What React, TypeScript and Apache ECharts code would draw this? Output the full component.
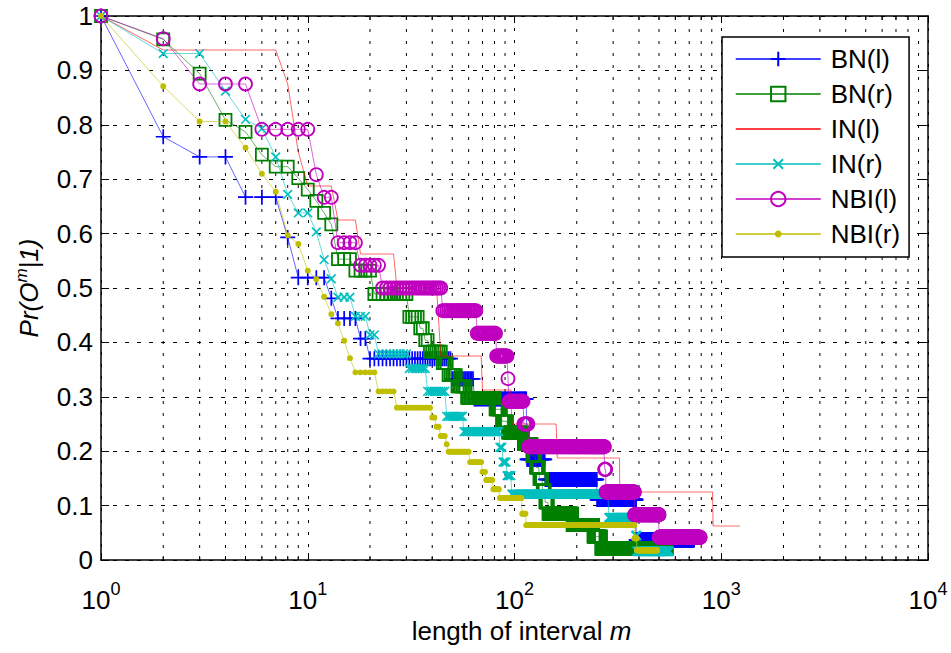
import { useEffect, useRef } from 'react';
import * as echarts from 'echarts';

// Each run is [first m, last m, Pr] : the empirical probability holds for every integer m in the run.
type Run = [number, number, number];

const seriesNames = ['BN(l)', 'BN(r)', 'IN(l)', 'IN(r)', 'NBI(l)', 'NBI(r)'];

const bnLeftRuns: Run[] = [
  [1, 1, 1], [2, 2, 0.778], [3, 4, 0.741], [5, 7, 0.667], [8, 8, 0.593], [9, 12, 0.519],
  [13, 13, 0.481], [14, 17, 0.444], [18, 19, 0.407], [20, 49, 0.37], [50, 63, 0.333],
  [64, 114, 0.296], [115, 140, 0.185], [141, 250, 0.148], [251, 387, 0.111], [388, 738, 0.037],
];

const bnRightRuns: Run[] = [
  [1, 1, 1], [2, 2, 0.957], [3, 3, 0.894], [4, 4, 0.809], [5, 5, 0.787], [6, 6, 0.745],
  [7, 8, 0.723], [9, 9, 0.702], [10, 10, 0.681], [11, 11, 0.66], [12, 12, 0.638], [13, 13, 0.617],
  [14, 16, 0.553], [17, 20, 0.532], [21, 30, 0.489], [31, 34, 0.447], [35, 36, 0.426],
  [37, 38, 0.404], [39, 44, 0.383], [45, 47, 0.362], [48, 52, 0.34], [53, 58, 0.319],
  [59, 80, 0.298], [81, 86, 0.277], [87, 92, 0.255], [93, 110, 0.234], [111, 121, 0.213],
  [122, 126, 0.191], [127, 131, 0.17], [132, 136, 0.149], [137, 140, 0.128], [141, 145, 0.106],
  [146, 190, 0.085], [191, 240, 0.064], [241, 262, 0.043], [263, 545, 0.021],
];

const inLeftRuns: Run[] = [
  [1, 1, 1], [2, 7, 0.9375], [8, 8, 0.875], [9, 9, 0.75], [10, 13, 0.6875], [14, 17, 0.625],
  [18, 26, 0.5625], [27, 42, 0.5], [43, 43, 0.4375], [44, 69, 0.375], [70, 96, 0.3125],
  [97, 160, 0.25], [161, 322, 0.1875], [323, 912, 0.125], [913, 1233, 0.0625],
];

const inRightRuns: Run[] = [
  [1, 1, 1], [2, 3, 0.931], [4, 4, 0.862], [5, 5, 0.81], [6, 6, 0.793], [7, 7, 0.741],
  [8, 8, 0.672], [9, 10, 0.638], [11, 11, 0.603], [12, 12, 0.552], [13, 13, 0.517],
  [14, 16, 0.483], [17, 19, 0.448], [20, 21, 0.414], [22, 30, 0.379], [31, 37, 0.352],
  [38, 46, 0.31], [47, 56, 0.264], [57, 84, 0.236], [85, 87, 0.207], [88, 91, 0.18],
  [92, 96, 0.155], [97, 285, 0.121], [286, 385, 0.078], [386, 390, 0.045], [391, 560, 0.016],
];

const nbiLeftRuns: Run[] = [
  [1, 1, 1], [2, 2, 0.9583], [3, 5, 0.875], [6, 10, 0.7917], [11, 11, 0.7083], [12, 13, 0.6667],
  [14, 17, 0.5833], [18, 22, 0.5417], [23, 44, 0.5], [45, 65, 0.4583], [66, 81, 0.4167],
  [82, 92, 0.375], [93, 93, 0.3333], [94, 110, 0.2917], [111, 116, 0.25], [117, 272, 0.2083],
  [273, 276, 0.1667], [277, 380, 0.125], [381, 500, 0.0833], [501, 790, 0.0417],
];

const nbiRightRuns: Run[] = [
  [1, 1, 1], [2, 2, 0.871], [3, 4, 0.806], [5, 5, 0.758], [6, 6, 0.71], [7, 7, 0.677],
  [8, 8, 0.597], [9, 9, 0.581], [10, 10, 0.532], [11, 11, 0.516], [12, 12, 0.484],
  [13, 13, 0.452], [14, 14, 0.435], [15, 15, 0.403], [16, 16, 0.371], [17, 21, 0.345],
  [22, 26, 0.31], [27, 39, 0.28], [40, 41, 0.262], [42, 43, 0.245], [44, 46, 0.228],
  [47, 47, 0.213], [48, 60, 0.199], [61, 69, 0.18], [70, 72, 0.162], [73, 78, 0.147],
  [79, 84, 0.13], [85, 108, 0.114], [109, 113, 0.085], [114, 380, 0.064], [381, 390, 0.04],
  [391, 490, 0.018],
];

const allRuns = [bnLeftRuns, bnRightRuns, inLeftRuns, inRightRuns, nbiLeftRuns, nbiRightRuns];

// Decades of the log axis and the minor multiples drawn between them
const minorDecades = [1, 10, 100, 1000];
const minorMultiples = [2, 3, 4, 5, 6, 7, 8, 9];
const yTicks = [0, 0.1, 0.2, 0.3, 0.4, 0.5, 0.6, 0.7, 0.8, 0.9, 1];

const FONT = "'Liberation Sans', Arial, Helvetica, sans-serif";

const PLUS = 'path://M6,0L6,12M0,6L12,6';
const CROSS = 'path://M0,0M12,12M2,2L10,10M10,2L2,10';
const DOT = 'path://M0,0M12,12M6,4A2,2,0,1,1,6,8A2,2,0,1,1,6,4Z';

const looks = [
  { color: '#0000ff', symbol: PLUS, size: 15, fill: 'rgba(0,0,0,0)', show: true, border: 1.7 },
  { color: '#008000', symbol: 'rect', size: 12, fill: 'rgba(0,0,0,0)', show: true, border: 1.8 },
  { color: '#ff0000', symbol: 'circle', size: 6, fill: '#ff0000', show: false, border: 1 },
  { color: '#00bfbf', symbol: CROSS, size: 13, fill: 'rgba(0,0,0,0)', show: true, border: 1.6 },
  { color: '#bf00bf', symbol: 'circle', size: 13, fill: 'rgba(0,0,0,0)', show: true, border: 1.8 },
  { color: '#bfbf00', symbol: DOT, size: 14, fill: '#bfbf00', show: true, border: 1.2 },
];

function expandRuns(runs: Run[]): [number, number][] {
  const pts: [number, number][] = [];
  runs.forEach(([a, b, p]) => {
    for (let m = a; m <= b; m++) pts.push([m, p]);
  });
  return pts;
}

export default function App() {
  const ref = useRef<HTMLDivElement>(null);

  useEffect(() => {
    document.body.style.margin = '0';
    if (!ref.current) return;
    const chart = echarts.init(ref.current, undefined, { renderer: 'svg' });

    const minorTickValues: number[] = [];
    minorDecades.forEach((d) => minorMultiples.forEach((k) => minorTickValues.push(d * k)));

    const lineSeries = seriesNames.map((name, i) => {
      const lk = looks[i];
      return {
        name,
        type: 'line',
        data: expandRuns(allRuns[i]),
        symbol: lk.symbol,
        symbolSize: lk.size,
        showSymbol: lk.show,
        clip: false,
        silent: true,
        z: 3 + i,
        color: lk.color,
        lineStyle: { color: lk.color, width: 1, opacity: 0.6 },
        itemStyle: { color: lk.fill, borderColor: lk.color, borderWidth: lk.border },
        emphasis: { disabled: true },
      };
    });

    const minorGrid = {
      name: 'minor',
      type: 'custom',
      silent: true,
      z: 1,
      data: minorTickValues.map((v) => [v, 0]),
      renderItem: (_params: any, api: any) => {
        const x = api.value(0);
        const b = api.coord([x, 0]);
        const t = api.coord([x, 1]);
        return {
          type: 'group',
          children: [
            {
              type: 'line',
              shape: { x1: b[0], y1: b[1], x2: t[0], y2: t[1] },
              style: { stroke: '#000', lineWidth: 1, lineDash: [3, 9] },
            },
            {
              type: 'line',
              shape: { x1: b[0], y1: b[1], x2: b[0], y2: b[1] - 4 },
              style: { stroke: '#000', lineWidth: 1 },
            },
            {
              type: 'line',
              shape: { x1: t[0], y1: t[1], x2: t[0], y2: t[1] + 4 },
              style: { stroke: '#000', lineWidth: 1 },
            },
          ],
        };
      },
    };

    const axisLine = { show: true, onZero: false, lineStyle: { color: '#000', width: 1.5 } };

    const option: any = {
      animation: false,
      backgroundColor: '#fff',
      textStyle: { fontFamily: FONT, color: '#000' },
      grid: { left: 101, right: 23, top: 16, bottom: 93 },
      legend: {
        orient: 'vertical',
        left: 722,
        top: 37,
        padding: [9, 9, 10, 13],
        itemWidth: 85,
        itemHeight: 18,
        itemGap: 9,
        selectedMode: false,
        backgroundColor: '#fff',
        borderColor: '#000',
        borderWidth: 1.5,
        borderRadius: 0,
        lineStyle: { width: 1.5, opacity: 1 },
        textStyle: { fontFamily: FONT, fontSize: 26, lineHeight: 26, color: '#000', padding: [0, 0, 0, 5] },
        data: seriesNames.map((name, i) =>
          looks[i].show ? { name } : { name, itemStyle: { opacity: 0 } },
        ),
      },
      xAxis: [
        {
          type: 'log',
          logBase: 10,
          min: 1,
          max: 10000,
          position: 'bottom',
          name: '{n|length of interval }{i|m}',
          nameLocation: 'middle',
          nameGap: 58,
          nameTextStyle: {
            padding: [0, 0, 0, 14],
            rich: {
              n: { fontFamily: FONT, fontSize: 26, color: '#000' },
              i: { fontFamily: FONT, fontSize: 26, fontStyle: 'italic', color: '#000' },
            },
          },
          axisLine,
          axisTick: { show: true, inside: true, length: 7, lineStyle: { color: '#000', width: 1 } },
          axisLabel: {
            margin: 20,
            formatter: (v: number) => `{b|10}{s|${Math.round(Math.log10(v))}}`,
            rich: {
              b: { fontFamily: FONT, fontSize: 26, color: '#000' },
              s: { fontFamily: FONT, fontSize: 18, color: '#000', padding: [0, 0, 22, 0] },
            },
          },
          splitLine: { show: true, lineStyle: { color: '#000', width: 1, type: [3, 9] } },
        },
        {
          type: 'log',
          logBase: 10,
          min: 1,
          max: 10000,
          position: 'top',
          axisLine,
          axisTick: { show: true, inside: true, length: 7, lineStyle: { color: '#000', width: 1 } },
          axisLabel: { show: false },
          splitLine: { show: false },
        },
      ],
      yAxis: [
        {
          type: 'value',
          min: 0,
          max: 1,
          interval: 0.1,
          position: 'left',
          name: '{n|Pr(O}{s|m}{n||1)}',
          nameLocation: 'middle',
          nameRotate: 90,
          nameGap: 57,
          nameTextStyle: {
            rich: {
              n: { fontFamily: FONT, fontSize: 26, fontStyle: 'italic', color: '#000' },
              s: { fontFamily: FONT, fontSize: 17, fontStyle: 'italic', color: '#000', padding: [0, 0, 14, 0] },
            },
          },
          axisLine,
          axisTick: { show: true, inside: true, length: 8, lineStyle: { color: '#000', width: 1 } },
          axisLabel: {
            margin: 8,
            fontFamily: FONT,
            fontSize: 26,
            color: '#000',
            formatter: (v: number) => {
              const t = yTicks.find((y) => Math.abs(y - v) < 1e-6);
              return String(t ?? v);
            },
          },
          splitLine: { show: true, lineStyle: { color: '#000', width: 1, type: [4, 8] } },
        },
        {
          type: 'value',
          min: 0,
          max: 1,
          interval: 0.1,
          position: 'right',
          axisLine,
          axisTick: { show: true, inside: true, length: 8, lineStyle: { color: '#000', width: 1 } },
          axisLabel: { show: false },
          splitLine: { show: false },
        },
      ],
      series: [minorGrid, ...lineSeries],
    };

    chart.setOption(option);
    return () => chart.dispose();
  }, []);

  return <div ref={ref} style={{ width: 951, height: 653 }} />;
}
